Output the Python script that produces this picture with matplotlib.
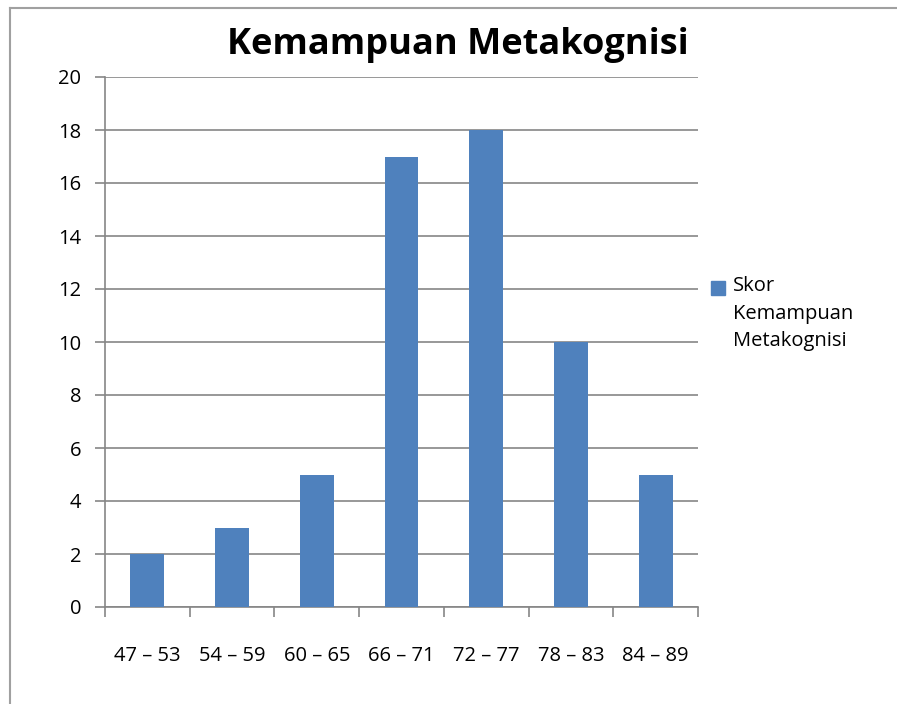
import matplotlib
matplotlib.use("Agg")
import matplotlib.pyplot as plt
from matplotlib.lines import Line2D
from matplotlib.patches import Rectangle

# data
categories = ["47 – 53", "54 – 59", "60 – 65", "66 – 71", "72 – 77", "78 – 83", "84 – 89"]
values = [2, 3, 5, 17, 18, 10, 5]
series_name = "Skor\nKemampuan\nMetakognisi"
title = "Kemampuan Metakognisi"

plt.rcParams["font.family"] = ["Open Sans", "DejaVu Sans"]

W, H = 897, 704
fig = plt.figure(figsize=(W / 100, H / 100), dpi=100)
ax = fig.add_axes([105 / W, 1 - 607 / H, (698 - 105) / W, (607 - 77) / H])

bar_color = "#4F81BD"
grid_color = "#868686"

x = list(range(len(categories)))
ax.bar(x, values, width=0.4, color=bar_color, zorder=3)

ax.set_xlim(-0.5, len(categories) - 0.5)
ax.set_ylim(0, 20)
ax.set_yticks(range(0, 21, 2))
ax.yaxis.grid(True, color=grid_color, linewidth=1.2, zorder=0)

for side in ["top", "right"]:
    ax.spines[side].set_visible(False)
ax.spines["left"].set_color(grid_color)
ax.spines["bottom"].set_color(grid_color)
ax.spines["left"].set_linewidth(1.2)
ax.spines["bottom"].set_linewidth(1.2)

# category boundary ticks below axis
ax.set_xticks([i - 0.5 for i in range(len(categories) + 1)])
ax.set_xticklabels([])
ax.set_xticks(x, minor=True)
ax.set_xticklabels(categories, minor=True, fontsize=14.5)
ax.tick_params(axis="x", which="major", length=7, color=grid_color, width=1.2)
ax.tick_params(axis="x", which="minor", length=0, pad=28)
ax.tick_params(axis="y", length=7, color=grid_color, width=1.2, labelsize=14.5, pad=10)

fig.text(458 / W, 1 - 45 / H, title, ha="center", va="center",
         fontsize=26, fontweight="bold")

# legend (drawn by hand so the marker sits beside the first line)
fig.add_artist(Rectangle((711 / W, 1 - 295 / H), 14 / W, 14 / H,
                         transform=fig.transFigure, color=bar_color))
fig.text(733 / W, 1 - 276 / H, series_name, ha="left", va="top",
         fontsize=14.5, linespacing=1.5)

# outer chart border (left & top visible)
fig.add_artist(Line2D([10 / W, 10 / W], [0, 1 - 8 / H], color="#A0A0A0", linewidth=1.5))
fig.add_artist(Line2D([10 / W, 1], [1 - 8 / H, 1 - 8 / H], color="#A0A0A0", linewidth=1.5))

fig.savefig("out.png", dpi=100)
